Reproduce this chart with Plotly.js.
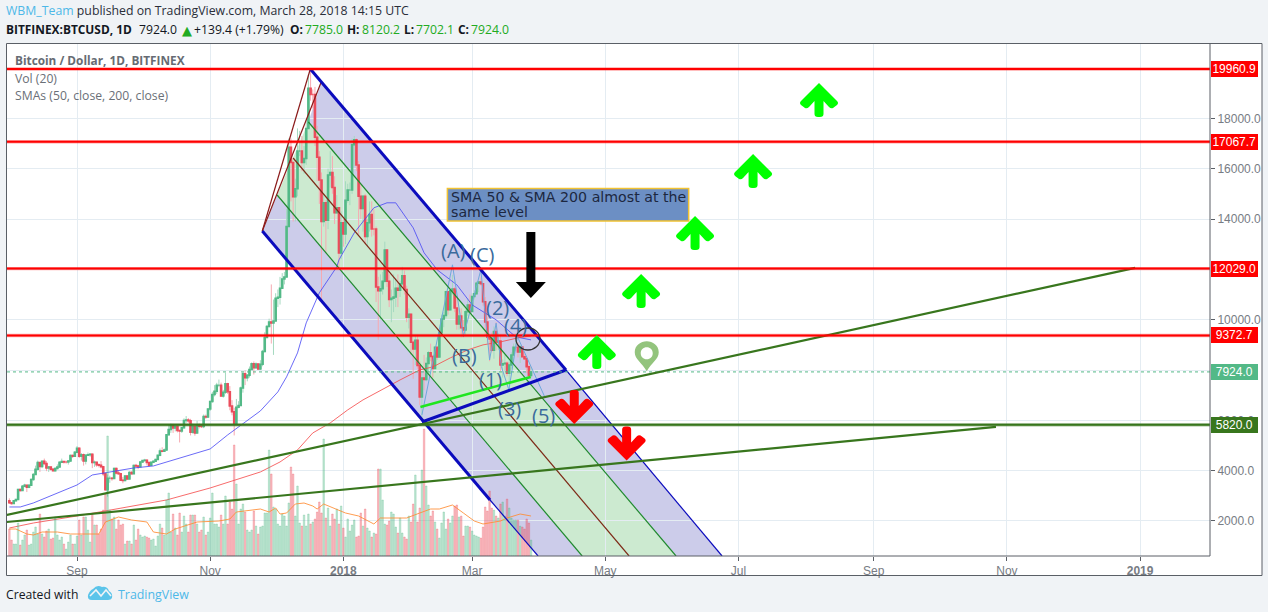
<!DOCTYPE html>
<html><head><meta charset="utf-8">
<script src="https://cdn.plot.ly/plotly-3.0.1.min.js"></script>
<style>html,body{margin:0;padding:0;background:#f0f3f6;overflow:hidden}#c{width:1268px;height:612px}</style>
</head><body><div id="c"></div>
<script>
const firstDay = '2017-08-01';
const firstOpen = 2800;
const closes = [
2720,2700,2800,2850,3250,3210,3380,3420,3340,3420,3650,3850,4060,4320,4170,4370,4280,4110,4150,4060,4000,4090,4150,4330,4360,4340,4340,4380,4600,4570,4730,
4890,4570,4630,4380,4610,4630,4650,4320,4330,4230,4220,4160,3880,3240,3700,3700,3690,4090,3910,3880,3620,3610,3790,3670,3930,3880,4210,4190,4160,4340,
4400,4410,4320,4220,4330,4370,4440,4610,4780,4770,4820,5430,5640,5810,5700,5760,5600,5580,5710,5990,6010,5980,5530,5750,5500,5770,5760,5750,6150,6130,6450,
6750,7030,7160,7390,7390,6970,7120,7450,7140,6570,6340,5880,6520,6590,7280,7850,7690,7790,8020,8250,8090,8240,8040,8230,8740,9290,9730,9910,9870,9950,
10850,10890,11250,11620,11700,13700,16850,16250,14880,15200,16700,16700,16250,16400,17600,19200,18950,18950,17250,16450,15550,13900,14650,13950,15750,15850,15250,14250,14450,12650,13850,
13400,14750,15150,15150,16950,17150,16150,14900,14420,14900,13300,13850,14180,13600,13600,11300,11150,11230,11530,12770,11530,10800,10850,10900,11250,11170,11430,11750,11200,10100,10220,
9100,8830,9180,8180,6930,7680,7620,8260,8690,8540,8060,8900,8520,9480,10030,10170,11110,10390,11150,11220,10460,9830,10150,9680,9590,10310,10580,10320,
10920,11030,11450,11500,11430,10710,9910,9300,9230,8780,9530,9130,9150,8200,8250,8270,7870,8200,8600,8900,8900,8720,8910,8530,8450,8130,7785,7924];
const highs = [
2900,2760,2830,2880,3280,3290,3430,3480,3430,3450,3690,3900,4200,4400,4300,4400,4480,4380,4180,4140,4100,4130,4250,4360,4480,4380,4400,4400,4640,4640,4780,
4980,4920,4700,4680,4640,4720,4690,4680,4400,4350,4290,4380,4190,3920,3850,3800,3750,4120,4120,3990,3920,3750,3820,3800,3980,3980,4240,4270,4230,4370,
4410,4470,4450,4340,4350,4390,4470,4620,4880,4930,4880,5450,5850,5870,5860,5780,5780,5620,5730,6080,6170,6090,6060,5870,5780,5980,5870,5800,6230,6230,6470,
6780,7130,7400,7490,7620,7500,7210,7890,7490,7360,6800,6500,6850,6760,7340,7930,7990,7840,8140,8300,8340,8300,8250,8390,8800,9500,9790,10040,11400,10800,
11050,11200,11700,11850,11900,14400,17200,17200,15900,15600,17600,17500,17300,16900,17950,19750,19960,19150,19250,17700,16700,15850,15000,14750,16000,16700,16500,15700,14950,14450,14300,
14000,15500,15400,15450,17200,17300,17200,16300,15400,14950,15000,14000,14700,14700,14400,13700,11700,11800,11900,13100,12800,11800,11200,11800,11650,11800,11550,12100,11950,11350,10450,
10150,9200,9400,9400,8350,7950,8600,8500,8750,9050,8600,8950,8900,9550,10200,10300,11150,11050,11270,11780,11300,10900,10450,10450,10000,10400,10850,11000,
11050,11180,11520,11520,11680,11440,10900,10100,9450,9490,9730,9900,9480,9400,8420,8600,8350,8400,8700,9050,9180,9100,8990,8930,8650,8550,8200,8120.2];
const lows = [
2680,2650,2680,2780,2840,3170,3200,3340,3150,3300,3420,3600,3850,4000,3950,4100,4220,3980,3950,4000,3980,3970,4050,4120,4300,4280,4280,4240,4360,4500,4550,
4690,4500,4400,4200,4250,4580,4550,4100,4150,4150,4130,4090,3780,3210,2970,3520,3600,3680,3850,3850,3600,3500,3580,3650,3670,3850,3880,4120,4060,4150,
4310,4360,4210,4170,4180,4300,4340,4420,4570,4730,4750,4810,5400,5500,5500,5560,5520,5120,5500,5660,5900,5900,5400,5470,5390,5600,5680,5700,5690,6060,6100,
6370,6700,6950,7050,7320,6940,6900,7050,7050,6400,6200,5400,5860,6480,6590,7100,7400,7550,7700,8040,7820,8060,8000,8000,8150,8700,9300,9700,9050,8600,
9950,10500,10600,11450,11400,11700,13700,14700,13900,13900,14900,16500,15900,15800,16150,17700,18700,18400,16900,15500,14600,10800,13700,12650,13600,15250,15000,13800,14200,12050,12400,
12900,13000,14650,14550,15000,16100,15900,13400,14000,13500,13000,12900,13500,13300,13350,10700,9200,10000,11000,11450,11300,10500,9900,10300,10500,10500,10900,11350,11000,9900,9650,
8600,7650,8200,8050,6600,6000,7200,7550,7850,8350,7700,8050,8400,8500,9350,9700,10050,10200,10400,11000,10300,9600,9600,9300,9300,9350,10150,10300,
10300,10800,11000,11100,11350,10550,9400,9050,8350,8700,8450,8780,8800,7950,7700,7950,7750,7300,8050,8350,8750,8500,8280,8520,8400,7880,7700,7702.1];
// volume, thousand BTC
const volumes = [
27,16,12,12,33,11,16,21,26,11,12,24,29,22,42,22,19,25,27,17,18,39,21,16,19,12,7,14,21,12,
12,20,36,21,39,39,26,14,42,31,31,22,27,46,62,120,46,37,39,27,36,31,32,12,15,15,12,31,16,27,
21,19,20,19,18,16,17,10,20,32,28,21,56,63,24,42,28,21,43,24,40,32,24,41,41,41,32,24,26,39,
21,24,38,63,32,32,29,41,32,60,32,54,47,111,72,32,47,52,44,26,24,26,45,30,22,29,30,43,43,106,82,49,47,32,30,
42,40,30,53,89,82,40,70,33,30,41,30,42,32,34,37,44,54,43,117,38,48,30,42,37,47,32,50,28,19,
37,25,31,36,19,20,43,30,47,28,25,19,23,22,87,87,56,32,31,35,44,42,29,23,38,23,19,17,40,34,
52,81,34,48,86,127,70,51,40,45,34,27,18,33,44,27,37,33,40,50,51,39,40,20,30,30,29,25,21,20,
19,18,29,49,45,65,48,46,40,38,52,54,40,57,48,38,36,36,36,30,29,27,37,33,16];
const sma50Dates = ['2017-08-01','2017-08-06','2017-08-12','2017-08-20','2017-09-01','2017-09-08','2017-09-13','2017-09-27','2017-10-06','2017-10-15','2017-10-26','2017-11-01','2017-11-09','2017-11-16','2017-11-24','2017-12-02','2017-12-06','2017-12-11','2017-12-15','2017-12-21','2017-12-29','2017-12-30','2018-01-06','2018-01-15','2018-01-21','2018-01-25','2018-01-28','2018-02-02','2018-02-07','2018-02-13','2018-02-22','2018-03-01','2018-03-12','2018-03-21','2018-03-28'];
const sma50Values = [2557,2557,2716,2994,3431,3829,3909,4107,4187,4425,4704,4863,5420,5857,6374,7129,7726,8680,9873,11066,12100,12378,13451,14445,14644,14644,14286,13650,12656,11980,11384,10588,9992,9316,9197];
const sma200Dates = ['2017-08-01','2017-08-12','2017-09-01','2017-09-22','2017-10-12','2017-11-01','2017-11-11','2017-11-24','2017-12-03','2017-12-11','2017-12-18','2017-12-26','2018-01-03','2018-01-10','2018-01-27','2018-02-05','2018-02-11','2018-02-19','2018-02-27','2018-03-06','2018-03-14','2018-03-22','2018-03-28'];
const sma200Values = [1722,1920,2199,2517,2835,3312,3590,3948,4346,4823,5499,5897,6414,6811,7606,8004,8123,8481,8799,8998,9117,9276,9356];
const volSmaDates = ['2017-08-01','2017-08-04','2017-08-09','2017-08-12','2017-08-16','2017-08-23','2017-08-29','2017-09-11','2017-09-14','2017-09-20','2017-09-26','2017-10-03','2017-10-06','2017-10-12','2017-10-16','2017-10-26','2017-11-05','2017-11-10','2017-11-13','2017-11-24','2017-11-28','2017-12-01','2017-12-03','2017-12-06','2017-12-10','2017-12-14','2017-12-18','2017-12-20','2017-12-23','2017-12-29','2018-01-02','2018-01-08','2018-01-15','2018-01-18','2018-01-30','2018-02-05','2018-02-10','2018-02-14','2018-02-20','2018-02-25','2018-03-02','2018-03-06','2018-03-14','2018-03-17','2018-03-23','2018-03-28'];
const volSmaValues = [27,27,22,21,24,24,22,22,34,39,36,34,24,22,27,34,35,37,44,47,44,48,42,43,52,53,50,47,52,47,43,40,32,38,38,43,47,47,51,43,35,32,35,38,42,40];
const waveDates = ['2018-02-06','2018-02-20','2018-02-25','2018-03-05','2018-03-09','2018-03-12','2018-03-14 10:00','2018-03-17 20:00','2018-03-21 18:00','2018-04-03 05:00'];
const wavePrices = [6215,12179,9328,11980,8401,9861,8135,7209,9328,6943];
const waveLabels = ['(A)','(C)','(2)','(4)','(B)','(1)','(3)','(5)'];
const waveLabelDates = ['2018-02-20 07:00','2018-03-05 12:00','2018-03-12 10:00','2018-03-21 02:00','2018-02-25 07:00','2018-03-09 05:00','2018-03-17 22:00','2018-04-02 12:00'];
const waveLabelPrices = [12768,12570,10503,9788,8596,7603,6490,6212];
const redLevels = [19960.9,17067.7,12029.0,9372.7];
const greenLevel = 5820.0;
const lastClose = 7924.0;
const upArrows = [['2018-04-27 03:00',8715],['2018-05-17 10:00',11139],['2018-06-11 03:00',13444],['2018-07-07 17:00',15908],['2018-08-06 22:00',18729]];
const downArrows = [['2018-04-16 19:00',6530],['2018-05-10 19:00',5080]];
const tickDates = ['2017-09-01','2017-11-01','2018-01-01','2018-03-01','2018-05-01','2018-07-01','2018-09-01','2018-11-01','2019-01-01'];
const tickNames = ['Sep','Nov','<b>2018</b>','Mar','May','Jul','Sep','Nov','<b>2019</b>'];
const priceTicks = [2000,4000,6000,8000,10000,12000,14000,16000,18000];
const priceTickNames = ['2000.0','4000.0','6000.0','','10000.0','','14000.0','16000.0','18000.0'];

// pitchfork anchor points [date, price]
const pA = ['2017-12-16_21:00',19960.9], pB = ['2017-11-24_21:00',13523], pC = ['2017-12-21_21:00',19444];
const pUpperEnd = ['2018-06-23_12:00',609], pLowerEnd = ['2018-03-31_05:00',609];
const pF = ['2018-04-13_00:00',8000], pG = ['2018-02-06_00:00',5934], pThin = ['2018-03-09_05:00',2834];
const gUp0 = ['2017-12-16_00:00',17855], gUp1 = ['2018-06-02_10:00',609];
const gLo0 = ['2017-12-01_16:00',14954], gLo1 = ['2018-04-20_10:00',609];
const med0 = ['2017-12-09_00:00',16424], med1 = ['2018-05-11_22:00',609];
const lime0 = ['2018-02-05_07:00',6533], lime1 = ['2018-03-27_20:00',7725];
const trend1a = ['2017-07-30_21:00',2239], trend1b = ['2018-12-29_18:00',12060];
const trend2a = ['2017-07-30_21:00',1960], trend2b = ['2018-10-27_00:00',5738];

const dates = closes.map((_,i)=>{const d=new Date(Date.UTC(2017,7,1+i));return d.toISOString().slice(0,10);});
const opens = closes.map((_,i)=> i? closes[i-1] : firstOpen);
const UP='#53b987', DOWN='#eb4d5c';

const PL=7, PR=1210, PT=44, PB=556;
const px=x=>(x-PL)/(PR-PL), py=y=>(PB-y)/(PB-PT);

const traces=[
 {type:'bar',x:dates,y:volumes,yaxis:'y2',width:86400000*0.7,hoverinfo:'skip',
  marker:{color:closes.map((c,i)=>c>=opens[i]?'rgba(83,185,135,0.36)':'rgba(235,77,92,0.36)'),
          line:{width:0.5,color:closes.map((c,i)=>c>=opens[i]?'rgba(83,185,135,0.55)':'rgba(235,77,92,0.55)')}}},
 {type:'scatter',mode:'lines',x:volSmaDates,y:volSmaValues,yaxis:'y2',line:{color:'rgba(255,140,50,0.85)',width:1},hoverinfo:'skip'},
 {type:'candlestick',x:dates,open:opens,high:highs,low:lows,close:closes,whiskerwidth:0,hoverinfo:'skip',
  increasing:{line:{color:'#a5d9c0',width:1},fillcolor:UP},decreasing:{line:{color:'#f6a9b1',width:1},fillcolor:DOWN}},
 {type:'candlestick',x:dates,open:opens,close:closes,high:closes.map((c,i)=>Math.max(c,opens[i])),low:closes.map((c,i)=>Math.min(c,opens[i])),whiskerwidth:0,hoverinfo:'skip',
  increasing:{line:{color:UP,width:1.5},fillcolor:UP},decreasing:{line:{color:DOWN,width:1.5},fillcolor:DOWN}},
 {type:'scatter',mode:'lines',x:sma50Dates,y:sma50Values,line:{color:'rgba(70,70,245,0.8)',width:1},hoverinfo:'skip'},
 {type:'scatter',mode:'lines',x:sma200Dates,y:sma200Values,line:{color:'rgba(245,70,70,0.8)',width:1},hoverinfo:'skip'},
 {type:'scatter',mode:'lines',x:waveDates,y:wavePrices,line:{color:'#6fa8dc',width:1},hoverinfo:'skip'}
];

const sp=s=>s.replace('_',' ');
const seg=(a,b,color,width,layer='above',dash)=>({type:'line',xref:'x',yref:'y',x0:sp(a[0]),y0:a[1],x1:sp(b[0]),y1:b[1],layer,line:{color,width,dash:dash||'solid'}});
const hseg=(y,color,width,layer='above',dash)=>({type:'line',xref:'paper',yref:'y',x0:0,x1:1,y0:y,y1:y,layer,line:{color,width,dash:dash||'solid'}});
const poly=(pts,fill)=>({type:'path',xref:'x',yref:'y',layer:'below',fillcolor:fill,line:{width:0},path:'M'+pts.map(p=>p[0]+','+p[1]).join(' L')+' Z'});
const glyph=(at,path,fill,extra)=>Object.assign({type:'path',xref:'x',yref:'y',xsizemode:'pixel',ysizemode:'pixel',xanchor:at[0],yanchor:at[1],layer:'above',path,fillcolor:fill,line:{width:0}},extra||{});
const arrowPath=s=>`M0,${17*s} L18,${-1*s} Q20,${-3*s} 18,${-5*s} L14,${-8*s} Q12,${-9*s} 10,${-7*s} L4.5,${-1*s} L4.5,${-14*s} Q4.5,${-17*s} 1,${-17*s} L-1,${-17*s} Q-4.5,${-17*s} -4.5,${-14*s} L-4.5,${-1*s} L-10,${-7*s} Q-12,${-9*s} -14,${-8*s} L-18,${-5*s} Q-20,${-3*s} -18,${-1*s} Z`;

const frame=(x0,y0,x1,y1)=>({type:'line',xref:'paper',yref:'paper',x0:px(x0),y0:py(y0),x1:px(x1),y1:py(y1),layer:'above',line:{color:'#5a5f66',width:1}});

const shapes=[
 {type:'rect',xref:'paper',yref:'paper',x0:px(6),x1:px(1262),y0:py(575.5),y1:py(43.5),layer:'below',fillcolor:'#ffffff',line:{width:0}},
 poly([pC,pUpperEnd,gUp1,gUp0],'rgba(0,0,150,0.2)'),
 poly([pB,gLo0,gLo1,pLowerEnd],'rgba(0,0,150,0.2)'),
 poly([gLo0,gUp0,gUp1,gLo1],'rgba(0,150,20,0.2)'),
 seg(pB,pA,'#8b1a1a',1.2),
 seg(pB,pC,'#8b1a1a',1.2),
 seg(gUp0,gUp1,'#1f8a2e',1.2),
 seg(gLo0,gLo1,'#1f8a2e',1.2),
 seg(med0,med1,'#7d2a17',1.2),
 seg(pF,pUpperEnd,'#0b0bbd',1.2),
 seg(pThin,pLowerEnd,'#0b0bbd',1.2),
 seg(pA,pF,'#0b0bbd',3),
 seg(pB,pThin,'#0b0bbd',3),
 seg(pG,pF,'#0b0bbd',3),
 seg(lime0,lime1,'#1fe61f',2.5),
 hseg(lastClose,UP,1,'above','dot'),
 seg(trend1a,trend1b,'#38761d',2.2),
 seg(trend2a,trend2b,'#38761d',2.2),
 hseg(greenLevel,'rgba(56,118,29,0.45)',3.4),
 hseg(greenLevel,'#38761d',2)
];
redLevels.forEach(v=>{shapes.push(hseg(v,'rgba(255,0,0,0.35)',3.4));shapes.push(hseg(v,'#ff0000',2));});
upArrows.forEach(a=>shapes.push(glyph(a,arrowPath(1),'#00ff00')));
downArrows.forEach(a=>shapes.push(glyph(a,arrowPath(-1),'#ff0000')));
// black arrow
shapes.push(glyph(['2018-03-27 22:00',12172],'M-4.5,33 L4.5,33 L4.5,-17 L15,-17 L0,-33 L-15,-17 L-4.5,-17 Z','#000000'));
// pin
shapes.push(glyph(['2018-05-20 00:00',8664],'M0,-18 C-5,-9 -12,-6 -12,1 C-12,8 -6,12 0,12 C6,12 12,8 12,1 C12,-6 5,-9 0,-18 Z M0,6 C3.5,6 6,3.5 6,0 C6,-3.5 3.5,-6 0,-6 C-3.5,-6 -6,-3.5 -6,0 C-6,3.5 -3.5,6 0,6 Z','#93c47d',{fillrule:'evenodd'}));
// circle
shapes.push({type:'circle',xref:'x',yref:'y',xsizemode:'pixel',ysizemode:'pixel',xanchor:'2018-03-26 14:00',yanchor:9232,x0:-12,x1:12,y0:-11,y1:11,layer:'above',line:{color:'#333',width:1.3}});
// note box
shapes.push({type:'rect',xref:'x',yref:'y',x0:'2018-02-17 16:00',x1:'2018-06-08 05:00',y0:15212,y1:13921,layer:'above',fillcolor:'#6c8fc4',line:{color:'#f1c232',width:1.5}});
// frame
shapes.push(frame(6.5,43.5,1262,43.5),frame(6.5,43.5,6.5,575.5),frame(6.5,575.5,1262,575.5),frame(1262,43.5,1262,575.5),frame(1210,43.5,1210,556),frame(6.5,556,1210,556));
// footer logo
shapes.push({type:'path',xref:'paper',yref:'paper',layer:'above',fillcolor:'#5bc4ea',line:{width:0},
 path:`M${px(88)},${py(595)} Q${px(90)},${py(590)} ${px(93)},${py(589)} Q${px(97)},${py(584)} ${px(102)},${py(587)} Q${px(107)},${py(586)} ${px(109)},${py(591)} Q${px(113)},${py(593)} ${px(112)},${py(598)} Q${px(111)},${py(600)} ${px(108)},${py(600)} L${px(92)},${py(600)} Q${px(87)},${py(600)} ${px(88)},${py(595)} Z`});
shapes.push({type:'path',xref:'paper',yref:'paper',layer:'above',line:{color:'#f0f3f6',width:1.6},
 path:`M${px(90)},${py(596)} L${px(96)},${py(590)} L${px(101)},${py(596)} L${px(106)},${py(590)} L${px(111)},${py(596)}`});

const TXT='"Open Sans","Noto Sans",sans-serif', ARIAL='"Liberation Sans",Arial,sans-serif';
const note=(x,y,text,size,color,anchor='left',family=TXT)=>({xref:'paper',yref:'paper',x:px(x),y:py(y),text,xanchor:anchor,yanchor:'middle',showarrow:false,font:{family,size,color},borderpad:0,borderwidth:0,align:'left'});
const GR='#22ab22', DK='#131722';
const annotations=[
 note(6,10,'<span style="color:#4db8e8">WBM_Team</span> published on TradingView.com, March 28, 2018 14:15 UTC',12.3,'#2a2e39'),
 note(6,29,'<b>BITFINEX:BTCUSD, 1D</b>',11.9,DK),
 note(139,29,'7924.0',12.2,DK),
 note(194,29,'+139.4 (+1.79%)',12.2,DK),
 note(290,29,'<b>O:</b>',11.9,DK), note(305,29,'7785.0',12.2,GR),
 note(347,29,'<b>H:</b>',11.9,DK), note(362,29,'8120.2',12.2,GR),
 note(404,29,'<b>L:</b>',11.9,DK), note(416,29,'7702.1',12.2,GR),
 note(458,29,'<b>C:</b>',11.9,DK), note(471,29,'7924.0',12.2,GR),
 note(15,60,'<b>Bitcoin / Dollar, 1D, BITFINEX</b>',11.8,'#666b73'),
 note(15,78,'Vol (20)',12.2,'#6a6f77'),
 note(15,95,'SMAs (50, close, 200, close)',12.2,'#6a6f77'),
 note(6,594,'Created with',12.2,DK),
 note(118,594,'TradingView',12.4,'#4db8e8')
];
annotations.push({xref:'paper',yref:'paper',x:px(180),y:py(30),text:'▲',xanchor:'left',yanchor:'middle',showarrow:false,font:{family:'"DejaVu Sans"',size:13,color:GR}});
waveLabels.forEach((t,i)=>annotations.push({x:waveLabelDates[i],y:waveLabelPrices[i],text:t,showarrow:false,xanchor:'center',yanchor:'middle',font:{family:TXT,size:20,color:'#3a6a9c'}}));
const noteX='2018-02-18 12:00';
annotations.push({x:noteX,y:14855,text:'SMA 50 &amp; SMA 200 almost at the',showarrow:false,xanchor:'left',yanchor:'middle',font:{family:'"DejaVu Sans"',size:14.2,color:'#1c2740'}});
annotations.push({x:noteX,y:14279,text:'same level',showarrow:false,xanchor:'left',yanchor:'middle',font:{family:'"DejaVu Sans"',size:14.2,color:'#1c2740'}});
const box=(v,bg)=>({xref:'paper',yref:'y',x:px(1210.5),y:v,text:v.toFixed(1),showarrow:false,xanchor:'left',yanchor:'middle',width:46.5,height:16,align:'center',bgcolor:bg,borderpad:0,borderwidth:0,font:{family:ARIAL,size:12,color:'#ffffff'}});
redLevels.forEach(v=>annotations.push(box(v,'#ff0000')));
annotations.push(box(lastClose,UP));
annotations.push(box(greenLevel,'#38761d'));

const layout={
 width:1268,height:612,autosize:false,
 margin:{l:PL,r:1268-PR,t:PT,b:612-PB,pad:0},
 paper_bgcolor:'#f0f3f6',plot_bgcolor:'rgba(0,0,0,0)',showlegend:false,dragmode:false,hovermode:false,
 xaxis:{type:'date',range:['2017-07-30 22:00','2019-02-02 01:00'],rangeslider:{visible:false},tickmode:'array',tickvals:tickDates,ticktext:tickNames,
  showgrid:true,gridcolor:'#e4ecf2',gridwidth:1,zeroline:false,ticks:'outside',ticklen:4,tickcolor:'#5a5f66',tickfont:{family:ARIAL,size:12,color:'#777c84'},fixedrange:true,showline:false},
 yaxis:{side:'right',range:[609,20954],tickmode:'array',tickvals:priceTicks,ticktext:priceTickNames,
  showgrid:true,gridcolor:'#e4ecf2',gridwidth:1,zeroline:false,ticks:'outside',ticklen:4,tickcolor:'#5a5f66',tickfont:{family:ARIAL,size:12,color:'#777c84'},fixedrange:true,showline:false},
 yaxis2:{overlaying:'y',domain:[0,1],range:[0,512],visible:false,fixedrange:true,side:'left'},
 bargap:0.2,shapes,annotations
};
Plotly.newPlot('c',traces,layout,{displayModeBar:false,staticPlot:true,responsive:false});
</script></body></html>
